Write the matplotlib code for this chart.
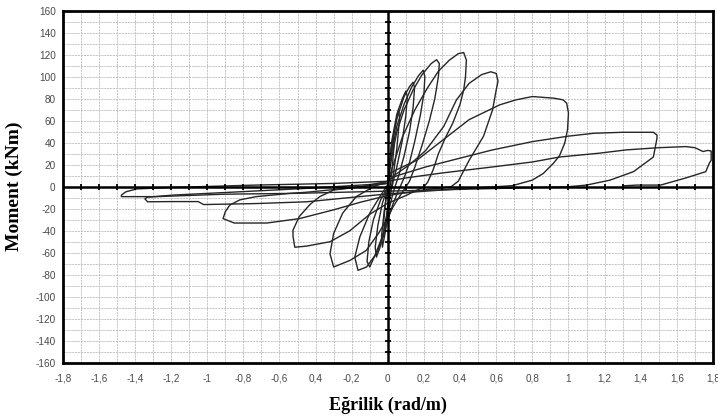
import numpy as np
import matplotlib
matplotlib.use("Agg")
import matplotlib.pyplot as plt

# hysteresis loops: curvature (rad/m), moment (kNm)
loop1_x = [0.0, 0.015, 0.03, 0.035, 0.02, 0.005, -0.01, -0.02, -0.022, -0.01, 0.0]
loop1_y = [0, 25, 45, 38, 10, -10, -30, -42, -30, -10, 0]

loop2_x = [0.0, 0.02, 0.04, 0.06, 0.065, 0.05, 0.03, 0.01, 0.0, -0.015, -0.03, -0.035, -0.02, 0.0]
loop2_y = [1, 35, 55, 70, 62, 35, 10, -10, -25, -42, -55, -45, -22, 0]

loop3_x = [0.0, 0.02, 0.05, 0.08, 0.10, 0.108, 0.10, 0.08, 0.05, 0.02, 0.0, -0.02, -0.045,
           -0.063, -0.07, -0.055, -0.03, 0.0]
loop3_y = [2, 40, 66, 80, 87, 82, 65, 42, 18, -2, -20, -40, -56, -64, -55, -35, -15, 0]

loop4_x = [0.0, 0.02, 0.05, 0.09, 0.12, 0.14, 0.148, 0.14, 0.12, 0.09, 0.06, 0.03, 0.0,
           -0.03, -0.07, -0.10, -0.115, -0.105, -0.08, -0.04, 0.0]
loop4_y = [3, 35, 62, 82, 91, 95, 90, 72, 50, 28, 10, -5, -25, -45, -62, -73, -68, -50,
           -30, -12, 0]

loop5_x = [0.0, 0.02, 0.05, 0.09, 0.13, 0.17, 0.196, 0.205, 0.20, 0.18, 0.15, 0.12, 0.09,
           0.06, 0.03, 0.0, -0.026, -0.063, -0.118, -0.165, -0.183, -0.155, -0.10, -0.044, 0.0]
loop5_y = [3, 30, 55, 75, 90, 101, 106, 100, 85, 65, 42, 22, 8, -3, -15, -30, -45.6, -60.7,
           -73, -76, -64, -45.6, -24, -9, 2]

loop6_x = [0.0, 0.02, 0.05, 0.09, 0.14, 0.19, 0.24, 0.27, 0.285, 0.28, 0.26, 0.23, 0.19,
           0.15, 0.12, 0.08, 0.03, 0.0, -0.05, -0.12, -0.21, -0.30, -0.32, -0.30, -0.25,
           -0.175, -0.08, 0.0]
loop6_y = [5, 25, 50, 70, 88, 102, 112, 115.5, 112, 100, 80, 60, 38, 18, 5, -5, -18, -28,
           -42, -58, -67, -73, -61, -42.5, -24, -9, 0, 5]

loop7_x = [0.0, 0.03, 0.08, 0.15, 0.22, 0.28, 0.34, 0.39, 0.42, 0.435, 0.43, 0.42, 0.40,
           0.36, 0.32, 0.28, 0.25, 0.22, 0.20, 0.10, 0.0, -0.10, -0.21, -0.32, -0.45, -0.515,
           -0.525, -0.525, -0.49, -0.43, -0.377, -0.30, -0.15, 0.0]
loop7_y = [5, 20, 45, 70, 90, 105, 115, 121, 122, 115, 100, 88, 75, 58, 45, 30, 15, 4, 0,
           -8, -15, -25, -40, -50, -54, -55, -45, -39.5, -27, -16, -9, -3, 0, 5]

loop8_x = [0.0, 0.05, 0.12, 0.21, 0.31, 0.38, 0.45, 0.52, 0.57, 0.60, 0.61, 0.60, 0.58,
           0.53, 0.45, 0.39, 0.35, 0.20, 0.0, -0.15, -0.30, -0.49, -0.67, -0.85, -0.912,
           -0.90, -0.875, -0.82, -0.73, -0.54, -0.45, -0.20, 0.0]
loop8_y = [6, 12, 20, 33, 55, 79, 94, 102, 104.5, 103, 96, 88, 70, 46, 24, 5, 0, -3, -8,
           -14, -21, -29, -33, -33, -29, -22.8, -16.7, -12, -9, -6, -5, -1, 3]

loop9_x = [0.0, 0.03, 0.16, 0.305, 0.45, 0.62, 0.71, 0.80, 0.92, 0.97, 0.99, 1.0, 0.995,
           0.98, 0.95, 0.915, 0.86, 0.80, 0.69, 0.60, 0.30, 0.0, -0.45, -0.73, -1.02, -1.05,
           -1.20, -1.33, -1.345, -1.33, -1.19, -0.82, -0.45, 0.0]
loop9_y = [10, 14, 24, 42.5, 61, 74.5, 79, 82, 80.5, 79, 76, 67, 52, 40, 28, 21, 12, 6, 1,
           0, -3, -6.5, -13.7, -15.3, -16.2, -13.5, -13.5, -13.7, -11, -9.5, -7.6, -4.6,
           -1.5, 3]

loop10_x = [0.0, 0.05, 0.21, 0.40, 0.58, 0.80, 1.0, 1.14, 1.30, 1.47, 1.49, 1.49, 1.47,
            1.36, 1.23, 1.10, 1.0, 0.5, 0.0, -0.5, -0.91, -1.28, -1.475, -1.475, -1.45,
            -1.39, -1.19, -0.73, -0.30, 0.0]
loop10_y = [6, 10, 18, 26, 33.5, 41, 46, 48.6, 49.5, 49.5, 47, 44, 27, 13.7, 6, 1.5, 0, -2,
            -4, -6, -6.8, -9, -9, -7.6, -4.6, -2, -0.6, 1.5, 3, 5]

loop11_x = [0.0, 0.10, 0.30, 0.58, 0.80, 0.95, 1.17, 1.32, 1.50, 1.65, 1.70, 1.745, 1.77,
            1.79, 1.79, 1.78, 1.76, 1.65, 1.51, 1.38, 1.30]
loop11_y = [5, 8, 12.5, 18, 22.5, 27, 30.5, 33.5, 35.5, 36.5, 35.5, 32, 33, 32.5, 24, 21.5,
            13.7, 8, 1.5, 1.5, 0.8]

loops_x = [loop1_x, loop2_x, loop3_x, loop4_x, loop5_x, loop6_x, loop7_x, loop8_x,
           loop9_x, loop10_x, loop11_x]
loops_y = [loop1_y, loop2_y, loop3_y, loop4_y, loop5_y, loop6_y, loop7_y, loop8_y,
           loop9_y, loop10_y, loop11_y]

x_ticks = [-1.8, -1.6, -1.4, -1.2, -1.0, -0.8, -0.6, -0.4, -0.2, 0, 0.2, 0.4, 0.6, 0.8,
           1.0, 1.2, 1.4, 1.6, 1.8]
x_tick_labels = ["-1,8", "-1,6", "-1,4", "-1,2", "-1", "-0,8", "-0,6", "0,4", "-0,2", "0",
                 "0,2", "0,4", "0,6", "0,8", "1", "1,2", "1,4", "1,6", "1,8"]
y_ticks = list(range(-160, 161, 20))
y_tick_labels = [str(v) for v in y_ticks]

fig = plt.figure(figsize=(7.18, 4.2), dpi=100)
ax = fig.add_axes([0.0873, 0.1364, 0.9057, 0.838])

# grid every 0.1 / 10
for gx in np.arange(-1.7, 1.75, 0.1):
    ax.axvline(gx, color="#bcbcbc", lw=0.6, ls=(0, (2.5, 1)), zorder=0)
for gy in range(-150, 160, 10):
    ax.axhline(gy, color="#bcbcbc", lw=0.6, ls=(0, (2.5, 1)), zorder=0)

for lx, ly in zip(loops_x, loops_y):
    ax.plot(lx, ly, color="#262626", lw=1.0, solid_joinstyle="round", zorder=3)

# axes through the origin with small ticks
ax.axhline(0, color="black", lw=1.8, zorder=4)
ax.axvline(0, color="black", lw=1.8, zorder=4)
tx = np.round(np.arange(-1.7, 1.75, 0.1), 2)
ax.plot(tx, np.zeros_like(tx), ls="none", marker="|", ms=5, mew=1.3, color="black", zorder=4)
ty = np.arange(-150, 160, 10)
ax.plot(np.zeros_like(ty), ty, ls="none", marker="_", ms=5, mew=1.3, color="black", zorder=4)

ax.set_xlim(-1.8, 1.8)
ax.set_ylim(-160, 160)
ax.set_xticks(x_ticks)
ax.set_xticklabels(x_tick_labels)
ax.set_yticks(y_ticks)
ax.set_yticklabels(y_tick_labels)
ax.tick_params(length=0, labelsize=7.2, labelcolor="#4a4a4a")
ax.tick_params(axis="x", pad=8)
ax.tick_params(axis="y", pad=5)
for lab in ax.get_xticklabels() + ax.get_yticklabels():
    lab.set_family("Liberation Sans")
for sp in ax.spines.values():
    sp.set_linewidth(2)
    sp.set_color("black")

ax.set_xlabel("Eğrilik (rad/m)", family="Liberation Serif", weight="bold", fontsize=13,
              labelpad=9)
ax.set_ylabel("Moment (kNm)", family="Liberation Serif", weight="bold", fontsize=14,
              labelpad=9)

fig.savefig("out.png", dpi=100)
